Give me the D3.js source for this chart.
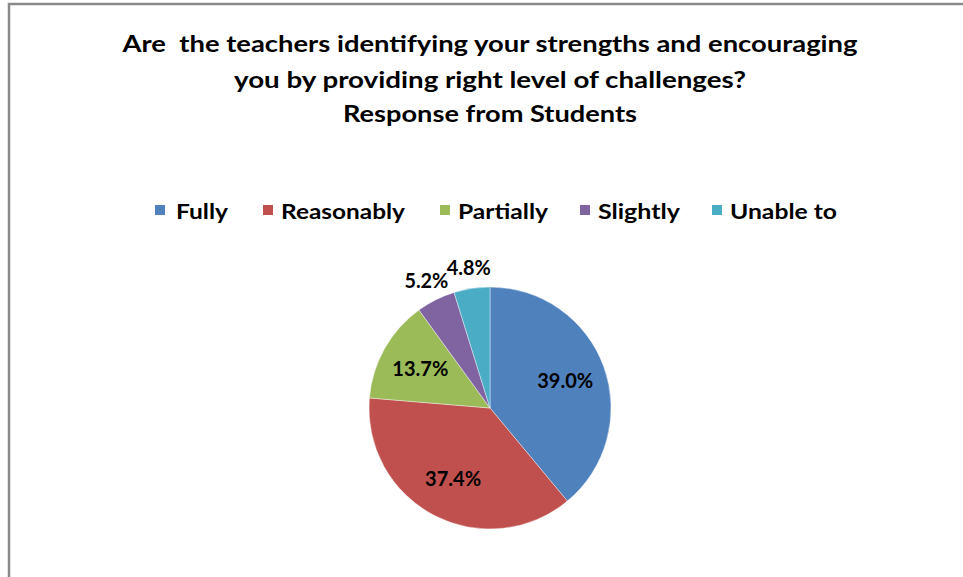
<!DOCTYPE html>
<html><head><meta charset="utf-8">
<script src="https://cdn.jsdelivr.net/npm/d3@7"></script>
<style>html,body{margin:0;padding:0;background:#fff;overflow:hidden} text{white-space:pre}</style>
</head><body>
<script>
const categories = ["Fully", "Reasonably", "Partially", "Slightly", "Unable to"];
const values = [39.0, 37.4, 13.7, 5.2, 4.8];
const colors = ["#4F81BD", "#C0504D", "#9BBB59", "#8064A2", "#4BACC6"];
const titleLines = [
  "Are  the teachers identifying your strengths and encouraging",
  "you by providing right level of challenges?",
  "Response from Students"
];

const W = 963, H = 577;
const FONT = "Lato, 'Open Sans', 'DejaVu Sans', sans-serif";
const svg = d3.select("body").append("svg").attr("width", W).attr("height", H);

// chart frame
svg.append("path").attr("d", "M9,577 V4 H963").attr("fill", "none")
  .attr("stroke", "#8a8a8a").attr("stroke-width", 2.5);

function fit(t, w) {
  t.attr("textLength", w).attr("lengthAdjust", "spacingAndGlyphs");
}

// title
const titleWidths = [735, 512, 294];
const titleY = [52, 88, 122];
titleLines.forEach((s, i) => {
  const t = svg.append("text").attr("x", 490).attr("y", titleY[i])
    .attr("text-anchor", "middle").attr("font-family", FONT)
    .attr("font-weight", "bold").attr("font-size", 22).attr("fill", "#000").text(s);
  fit(t, titleWidths[i]);
});

// legend
const legPos = {"Fully":155, "Reasonably":263, "Partially":440, "Slightly":580, "Unable to":712};
const legTextW = [52, 124, 90, 82, 107];
const lg = svg.append("g").selectAll("g").data(categories).join("g")
  .attr("transform", d => `translate(${legPos[d]},0)`);
lg.append("rect").attr("x", 0).attr("y", 205).attr("width", 10).attr("height", 10)
  .attr("fill", (d, i) => colors[i]);
lg.append("text").attr("x", (d, i) => i === 0 ? 21 : 18).attr("y", 218.5).attr("font-family", FONT)
  .attr("font-weight", "bold").attr("font-size", 21.5).attr("fill", "#000")
  .text(d => d).each(function(d, i) { fit(d3.select(this), legTextW[i]); });

// pie
const cx = 490, cy = 408, R = 121;
const pie = d3.pie().sort(null).value(d => d.v);
const arcs = pie(categories.map((c, i) => ({c, v: values[i], i})));
const arc = d3.arc().innerRadius(0).outerRadius(R);
const g = svg.append("g").attr("transform", `translate(${cx},${cy})`);
g.selectAll("path").data(arcs).join("path").attr("d", arc)
  .attr("fill", d => colors[d.data.i]).attr("stroke", "#fff").attr("stroke-width", 0.4);

const inArc = d3.arc().innerRadius(80).outerRadius(80);
const outArc = d3.arc().innerRadius(142).outerRadius(142);
g.selectAll("text").data(arcs).join("text")
  .attr("transform", d => `translate(${(d.data.v < 10 ? outArc : inArc).centroid(d)})`)
  .attr("text-anchor", "middle").attr("dy", "0.36em")
  .attr("font-family", FONT).attr("font-weight", "bold").attr("font-size", 20)
  .attr("fill", "#000")
  .text(d => d.data.v.toFixed(1) + "%")
  .each(function(d) { fit(d3.select(this), d.data.v < 10 ? 44 : 56); });
</script>
</body></html>
